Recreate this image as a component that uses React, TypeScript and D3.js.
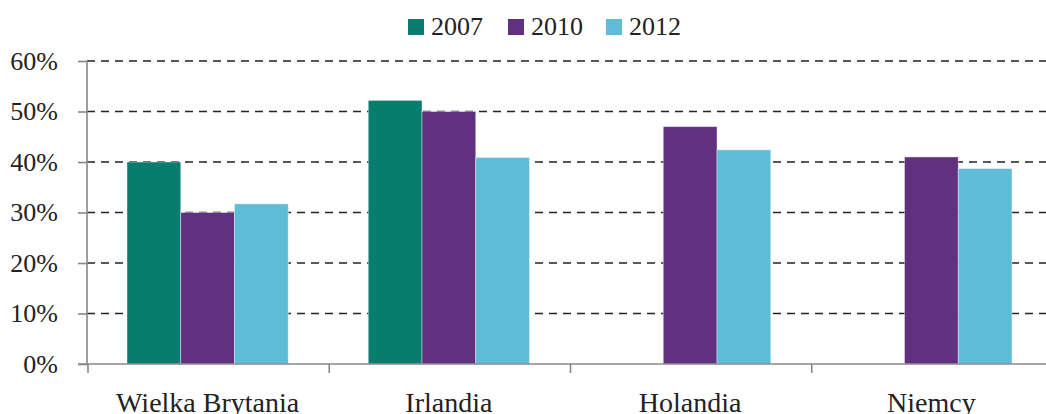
import React, { useEffect, useRef } from 'react';
import * as d3 from 'd3';

const categories = ['Wielka Brytania', 'Irlandia', 'Holandia', 'Niemcy'];
const seriesNames = ['2007', '2010', '2012'];
const values2007 = [40.0, 52.2, null, null];
const values2010 = [30.0, 50.0, 47.0, 41.0];
const values2012 = [31.7, 40.9, 42.4, 38.7];
const yTicks = [0, 10, 20, 30, 40, 50, 60];
const colors = ['#077c6f', '#5f317e', '#5ebcd6'];

const width = 1046;
const height = 414;
const font = '"Liberation Serif", "Times New Roman", serif';

const App: React.FC = () => {
  const svgRef = useRef<SVGSVGElement>(null);

  useEffect(() => {
    if (!svgRef.current) return;
    const svg = d3.select(svgRef.current);
    svg.selectAll('*').remove();

    const left = 87;
    const right = 1052;
    const top = 61;
    const bottom = 364;

    const series = [values2007, values2010, values2012];

    const x0 = d3.scaleBand<string>().domain(categories).range([left, right]).padding(0);
    const x1 = d3.scaleBand<string>()
      .domain(seriesNames)
      .range([40, x0.bandwidth() - 40])
      .padding(0);
    const y = d3.scaleLinear().domain([0, 60]).range([bottom, top]);

    // Gridlines
    svg.append('g')
      .selectAll('line')
      .data(yTicks.filter(t => t > 0))
      .enter().append('line')
      .attr('x1', left)
      .attr('x2', width)
      .attr('y1', d => y(d))
      .attr('y2', d => y(d))
      .attr('stroke', '#222')
      .attr('stroke-width', 1.6)
      .attr('stroke-dasharray', '8,6');

    // Bars
    categories.forEach((cat, ci) => {
      series.forEach((vals, si) => {
        const v = vals[ci];
        if (v == null) return;
        svg.append('rect')
          .attr('x', (x0(cat) || 0) + (x1(seriesNames[si]) || 0))
          .attr('y', y(v))
          .attr('width', x1.bandwidth())
          .attr('height', y(0) - y(v))
          .attr('fill', colors[si])
          .attr('stroke', 'rgba(255,255,255,0.5)')
          .attr('stroke-width', 0.8);
      });
    });

    // Y axis
    const yAxis = svg.append('g')
      .attr('transform', `translate(${left},0)`)
      .call(d3.axisLeft(y).tickValues(yTicks).tickSize(9).tickPadding(20).tickFormat(d => `${d}%`));
    yAxis.select('.domain').attr('stroke', '#888').attr('stroke-width', 1.6).attr('d', `M0,${top}V${bottom}`);
    yAxis.selectAll('.tick line').attr('stroke', '#888').attr('stroke-width', 1.6);
    yAxis.selectAll('.tick text')
      .attr('fill', '#222')
      .style('font-family', font)
      .style('font-size', '26px');

    // X axis
    const xAxis = svg.append('g')
      .attr('transform', `translate(0,${bottom})`);
    xAxis.append('line')
      .attr('x1', left - 9)
      .attr('x2', width)
      .attr('y1', 0)
      .attr('y2', 0)
      .attr('stroke', '#888')
      .attr('stroke-width', 1.6);
    xAxis.selectAll('.xtick')
      .data(categories)
      .enter().append('line')
      .attr('x1', d => (x0(d) || 0) + 1)
      .attr('x2', d => (x0(d) || 0) + 1)
      .attr('y1', 0)
      .attr('y2', 9)
      .attr('stroke', '#888')
      .attr('stroke-width', 1.6);
    xAxis.selectAll('.xlabel')
      .data(categories)
      .enter().append('text')
      .attr('x', d => (x0(d) || 0) + x0.bandwidth() / 2)
      .attr('y', 48)
      .attr('text-anchor', 'middle')
      .attr('fill', '#222')
      .style('font-family', font)
      .style('font-size', '28px')
      .text(d => d);

    // Legend
    const legendX = [408, 508, 606];
    const legend = svg.append('g');
    seriesNames.forEach((name, i) => {
      legend.append('rect')
        .attr('x', legendX[i])
        .attr('y', 19)
        .attr('width', 16)
        .attr('height', 16)
        .attr('fill', colors[i]);
      legend.append('text')
        .attr('x', legendX[i] + 23)
        .attr('y', 35)
        .attr('fill', '#222')
        .style('font-family', font)
        .style('font-size', '26px')
        .text(name);
    });
  }, []);

  return (
    <svg ref={svgRef} width={width} height={height} style={{ display: 'block', position: 'absolute', left: 0, top: 0, background: 'white' }} />
  );
};

export default App;
